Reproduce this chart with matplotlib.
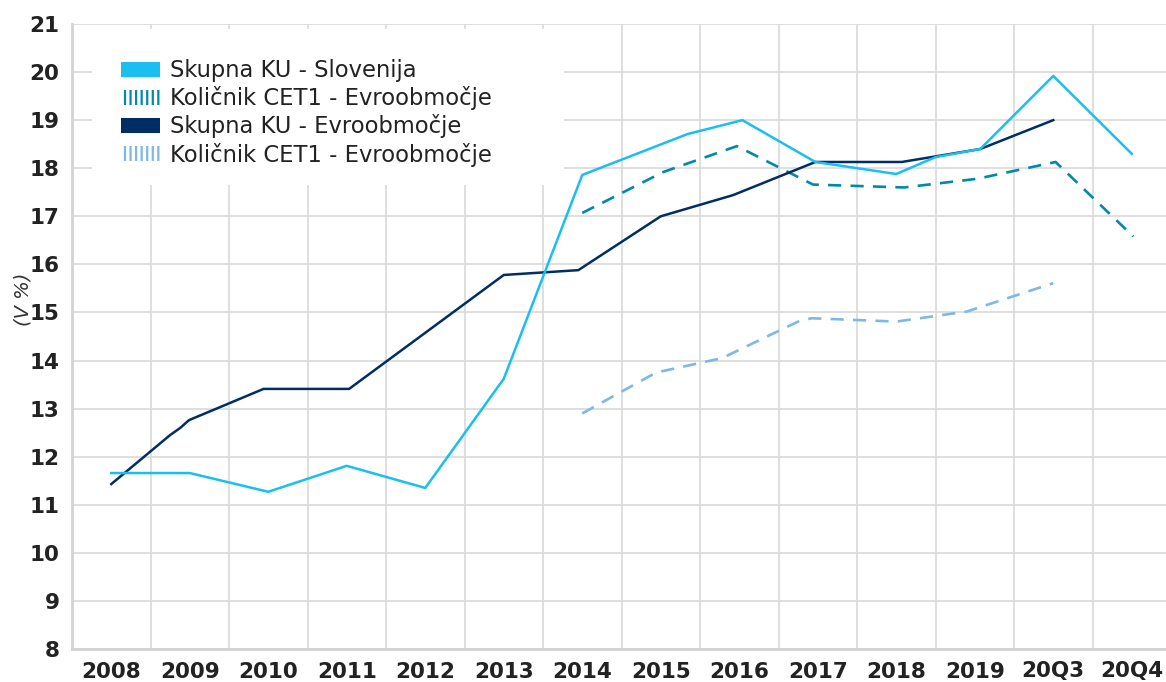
import numpy as np
import matplotlib
matplotlib.use('Agg')
import matplotlib.pyplot as plt
from matplotlib.patches import Patch, Rectangle

plt.rcParams['font.family'] = 'DejaVu Sans'
plt.rcParams['hatch.linewidth'] = 1.6

categories = ['2008', '2009', '2010', '2011', '2012', '2013', '2014',
              '2015', '2016', '2017', '2018', '2019', '20Q3', '20Q4']

# x positions in category units (0 = 2008)
ku_si_x = [0, 1.0, 2.0, 3.0, 4.0, 5.0, 6.0, 7.34, 8.04, 8.97, 10.0, 10.5, 11.07, 12.0, 13.0]
ku_si_y = [11.66, 11.66, 11.27, 11.81, 11.35, 13.62, 17.86, 18.71, 19.0, 18.13, 17.88, 18.23, 18.40, 19.92, 18.30]

ku_ea_x = [0, 0.75, 0.88, 0.99, 1.94, 3.03, 5.0, 5.95, 7.0, 7.92, 8.97, 10.07, 11.07, 12.0]
ku_ea_y = [11.43, 12.45, 12.60, 12.76, 13.41, 13.41, 15.78, 15.88, 17.0, 17.44, 18.13, 18.13, 18.40, 19.0]

cet1_a_x = [6.0, 7.03, 7.97, 8.94, 10.1, 11.03, 12.03, 13.02]
cet1_a_y = [17.07, 17.92, 18.46, 17.66, 17.60, 17.78, 18.13, 16.58]

cet1_b_x = [6.0, 6.94, 7.78, 8.75, 8.92, 10.0, 10.9, 12.0]
cet1_b_y = [12.90, 13.75, 14.05, 14.81, 14.88, 14.81, 15.02, 15.61]

labels = ['Skupna KU - Slovenija', 'Količnik CET1 - Evroobmočje',
          'Skupna KU - Evroobmočje', 'Količnik CET1 - Evroobmočje']

c_light = '#1ABFEF'
c_teal = '#0089A8'
c_navy = '#002E64'
c_pale = '#7DB8E6'

fig = plt.figure(figsize=(11.66, 6.82), dpi=100)
ax = fig.add_axes([72 / 1166, 1 - 649 / 682, 1099 / 1166, 625 / 682])

ax.plot(ku_si_x, ku_si_y, color=c_light, lw=1.8, zorder=4)
ax.plot(cet1_a_x, cet1_a_y, color=c_teal, lw=1.9, ls=(0, (5, 3.5)), zorder=3)
ax.plot(ku_ea_x, ku_ea_y, color=c_navy, lw=1.8, zorder=3)
ax.plot(cet1_b_x, cet1_b_y, color=c_pale, lw=1.9, ls=(0, (5, 3.5)), zorder=3)

ax.set_xlim(-0.5, len(categories) - 0.5)
ax.set_ylim(8, 21)
ax.set_xticks(range(len(categories)))
ax.set_xticklabels(categories)
ax.set_xticks(np.arange(0.5, len(categories) - 0.5, 1), minor=True)
ax.set_yticks(range(8, 22))

ax.grid(False)
ax.xaxis.grid(True, which='minor', color='#D9D9D9', lw=1.2)
ax.yaxis.grid(True, which='major', color='#D9D9D9', lw=1.2)
ax.set_axisbelow(True)
ax.tick_params(which='both', length=0)
ax.tick_params(axis='y', pad=9, labelsize=15.5, labelcolor='#222222')
ax.tick_params(axis='x', pad=9, labelsize=15.5, labelcolor='#222222')
for t in ax.get_xticklabels() + ax.get_yticklabels():
    t.set_fontweight('bold')

for s in ['top', 'right']:
    ax.spines[s].set_visible(False)
for s in ['left', 'bottom']:
    ax.spines[s].set_color('#D3D3D3')
    ax.spines[s].set_linewidth(2)

ax.set_ylabel('(V %)', fontsize=14, style='italic', color='#333333')
ax.yaxis.set_label_coords(-0.036, 0.56)

# white box behind legend hiding the grid
ax.add_patch(Rectangle((0.018, 0.742), 0.43, 0.25, transform=ax.transAxes,
                       facecolor='white', edgecolor='none', zorder=1.5))

handles = [
    Patch(facecolor=c_light, edgecolor='none'),
    Patch(facecolor='white', edgecolor=c_teal, hatch='|||', lw=0),
    Patch(facecolor=c_navy, edgecolor='none'),
    Patch(facecolor='white', edgecolor=c_pale, hatch='|||', lw=0),
]
leg = ax.legend(handles, labels, loc='upper left', bbox_to_anchor=(0.036, 0.958),
                frameon=False, fontsize=16.3, handlelength=1.75, handleheight=0.68,
                handletextpad=0.45, labelspacing=0.18, borderaxespad=0)
for t in leg.get_texts():
    t.set_color('#222222')

plt.savefig('out.png', dpi=100)
